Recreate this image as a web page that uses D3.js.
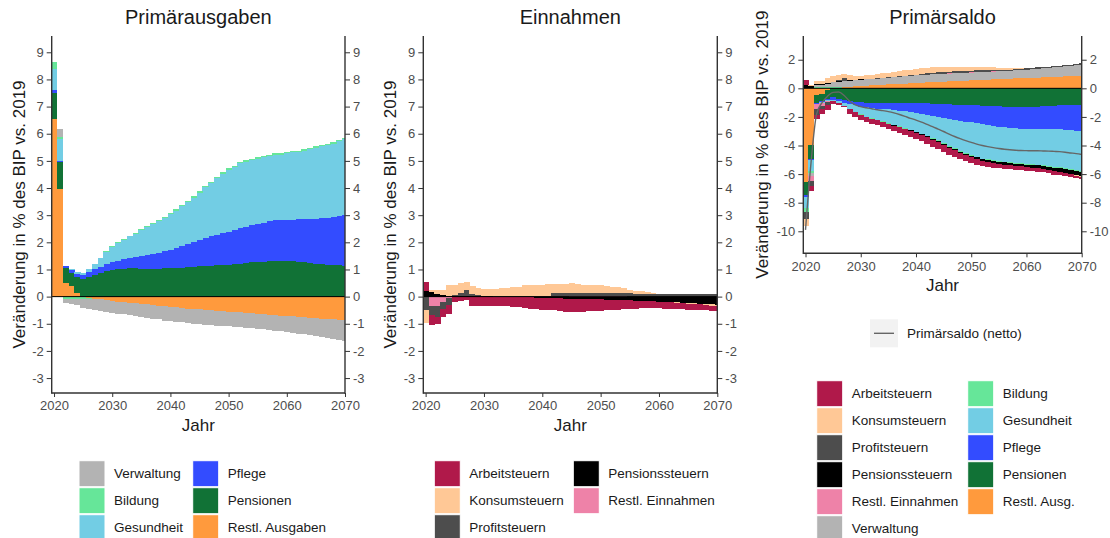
<!DOCTYPE html>
<html>
<head>
<meta charset="utf-8">
<script src="https://cdn.jsdelivr.net/npm/d3@7"></script>
<style>
  body { margin: 0; background: #fff; }
  text { font-family: "Liberation Sans", Arial, Helvetica, sans-serif; }
</style>
</head>
<body>
<svg id="chart" width="1110" height="538"></svg>
<script>
// ---------------------------------------------------------------------------
// DATA - change vs. 2019 in % of GDP, one value per year 2020..2070
// ---------------------------------------------------------------------------
const years = d3.range(2020, 2071);

// Primärausgaben
const restlAusgaben = [6.53, 3.97, 0.49, 0.38, 0.14, -0.02, -0.05, -0.07, -0.10, -0.13,
  -0.16, -0.18, -0.20, -0.22, -0.25, -0.27, -0.29, -0.31, -0.33, -0.36,
  -0.38, -0.40, -0.42, -0.44, -0.45, -0.47, -0.49, -0.50, -0.52, -0.53,
  -0.55, -0.57, -0.58, -0.60, -0.62, -0.63, -0.65, -0.67, -0.69, -0.70,
  -0.72, -0.73, -0.75, -0.76, -0.78, -0.80, -0.81, -0.83, -0.84, -0.86, -0.87];
const pensionen = [0.96, 0.98, 0.55, 0.50, 0.58, 0.64, 0.72, 0.80, 0.88, 0.95,
  0.99, 1.01, 1.03, 1.04, 1.04, 1.03, 1.03, 1.03, 1.03, 1.04,
  1.04, 1.05, 1.06, 1.08, 1.10, 1.12, 1.13, 1.14, 1.15, 1.17,
  1.18, 1.20, 1.22, 1.24, 1.26, 1.27, 1.29, 1.31, 1.32, 1.32,
  1.31, 1.30, 1.28, 1.26, 1.23, 1.21, 1.19, 1.17, 1.16, 1.15, 1.14];
const pflege = [0.12, 0.06, 0.07, 0.10, 0.13, 0.15, 0.17, 0.20, 0.22, 0.25,
  0.29, 0.32, 0.35, 0.38, 0.41, 0.45, 0.49, 0.53, 0.58, 0.63,
  0.69, 0.74, 0.80, 0.86, 0.92, 0.98, 1.03, 1.08, 1.12, 1.16,
  1.20, 1.25, 1.29, 1.33, 1.37, 1.41, 1.44, 1.47, 1.49, 1.51,
  1.52, 1.54, 1.57, 1.60, 1.63, 1.65, 1.69, 1.73, 1.78, 1.83, 1.87];
const gesundheit = [0.76, 0.80, 0.01, 0.04, 0.05, 0.08, 0.13, 0.22, 0.33, 0.45,
  0.55, 0.65, 0.72, 0.80, 0.87, 0.98, 1.04, 1.10, 1.17, 1.22,
  1.30, 1.38, 1.46, 1.55, 1.62, 1.73, 1.87, 1.96, 2.10, 2.20,
  2.29, 2.32, 2.40, 2.40, 2.40, 2.40, 2.40, 2.40, 2.42, 2.40,
  2.45, 2.47, 2.48, 2.51, 2.56, 2.62, 2.65, 2.68, 2.70, 2.74, 2.78];
const bildung = [0.27, 0.08, -0.08, -0.09, -0.09, -0.06, -0.03, -0.01, 0.01, 0.02,
  0.03, 0.03, 0.03, 0.03, 0.03, 0.04, 0.04, 0.04, 0.04, 0.04,
  0.04, 0.04, 0.04, 0.05, 0.05, 0.05, 0.05, 0.05, 0.05, 0.05,
  0.05, 0.05, 0.05, 0.05, 0.05, 0.05, 0.05, 0.05, 0.05, 0.05,
  0.05, 0.05, 0.05, 0.05, 0.06, 0.06, 0.06, 0.06, 0.06, 0.06, 0.06];
const verwaltung = [0.00, 0.27, -0.15, -0.17, -0.22, -0.33, -0.37, -0.40, -0.42, -0.43,
  -0.44, -0.45, -0.45, -0.46, -0.47, -0.48, -0.49, -0.50, -0.51, -0.52,
  -0.53, -0.53, -0.53, -0.54, -0.54, -0.54, -0.54, -0.55, -0.55, -0.55,
  -0.55, -0.55, -0.55, -0.55, -0.55, -0.55, -0.56, -0.56, -0.57, -0.58,
  -0.59, -0.60, -0.61, -0.63, -0.64, -0.66, -0.68, -0.70, -0.72, -0.75, -0.77];

// Einnahmen
const arbeitsteuern = [0.33, -0.37, -0.25, -0.30, -0.35, -0.20, -0.15, -0.12, -0.33, -0.33,
  -0.34, -0.34, -0.34, -0.35, -0.35, -0.35, -0.38, -0.40, -0.41, -0.42,
  -0.43, -0.44, -0.45, -0.47, -0.48, -0.48, -0.47, -0.46, -0.44, -0.43,
  -0.42, -0.40, -0.38, -0.36, -0.33, -0.30, -0.29, -0.28, -0.27, -0.26,
  -0.25, -0.25, -0.24, -0.24, -0.23, -0.23, -0.22, -0.21, -0.20, -0.19, -0.18];
const konsumsteuern = [-0.50, 0.05, 0.15, 0.20, 0.40, 0.38, 0.35, 0.32, 0.30, 0.25,
  0.25, 0.26, 0.27, 0.28, 0.30, 0.32, 0.34, 0.37, 0.38, 0.38,
  0.40, 0.42, 0.36, 0.36, 0.36, 0.36, 0.33, 0.30, 0.29, 0.28,
  0.27, 0.25, 0.22, 0.20, 0.18, 0.14, 0.14, 0.12, 0.10, 0.05,
  0.00, 0.00, -0.01, -0.01, -0.02, -0.02, -0.03, -0.03, -0.04, -0.04, -0.04];
const profitsteuern = [-0.48, -0.32, -0.43, -0.25, -0.25, 0.02, 0.12, 0.20, 0.05, 0.02,
  0.02, 0.02, 0.02, 0.02, 0.02, 0.02, 0.03, 0.04, 0.04, 0.04,
  0.04, 0.04, 0.12, 0.12, 0.12, 0.12, 0.12, 0.12, 0.12, 0.12,
  0.12, 0.12, 0.12, 0.12, 0.12, 0.12, 0.08, 0.08, 0.08, 0.08,
  0.08, 0.10, 0.10, 0.10, 0.10, 0.10, 0.10, 0.10, 0.10, 0.10, 0.10];
const pensionssteuern = [0.22, 0.18, 0.10, 0.05, 0.04, 0.04, 0.03, 0.03, 0.03, 0.03,
  0.02, 0.01, 0.00, 0.00, -0.01, -0.02, -0.02, -0.03, -0.03, -0.04,
  -0.05, -0.05, -0.06, -0.06, -0.07, -0.08, -0.08, -0.09, -0.09, -0.10,
  -0.10, -0.11, -0.12, -0.12, -0.13, -0.14, -0.15, -0.15, -0.16, -0.17,
  -0.18, -0.19, -0.20, -0.21, -0.22, -0.24, -0.25, -0.26, -0.27, -0.29, -0.30];
const restlEinnahmen = [0.00, -0.35, -0.33, -0.20, -0.05, 0.00, 0.00, 0.00, 0.00, 0.00,
  0.00, 0.00, 0.00, 0.00, 0.00, 0.00, 0.00, 0.00, 0.00, 0.00,
  0.00, 0.00, 0.00, 0.00, 0.00, 0.02, 0.02, 0.02, 0.02, 0.02,
  0.02, 0.02, 0.02, 0.02, 0.02, 0.00, 0.00, 0.00, 0.00, 0.00,
  0.00, 0.00, 0.00, 0.00, 0.00, 0.00, 0.00, 0.00, 0.00, 0.00, 0.00];

// Primärsaldo (netto), smoothed line
const saldoNetto = [-9.9, -5.2, -1.8, -1.0, -0.55, -0.28, -0.26, -0.5, -0.9, -1.15,
  -1.28, -1.36, -1.43, -1.5, -1.56, -1.63, -1.72, -1.83, -1.96, -2.1,
  -2.22, -2.36, -2.52, -2.68, -2.85, -3.02, -3.2, -3.37, -3.52, -3.66,
  -3.78, -3.9, -4.0, -4.08, -4.15, -4.21, -4.26, -4.3, -4.33, -4.35,
  -4.36, -4.37, -4.37, -4.38, -4.39, -4.41, -4.43, -4.47, -4.52, -4.57, -4.63];

const ticksAB = [-3, -2, -1, 0, 1, 2, 3, 4, 5, 6, 7, 8, 9];
const ticksSaldo = [-10, -8, -6, -4, -2, 0, 2];
const ticksYear = [2020, 2030, 2040, 2050, 2060, 2070];

const colors = {
  'Verwaltung': '#b3b3b3', 'Bildung': '#66e699', 'Gesundheit': '#72cde4',
  'Pflege': '#334cff', 'Pensionen': '#117236', 'Restl. Ausgaben': '#ff9a3d',
  'Restl. Ausg.': '#ff9a3d',
  'Arbeitsteuern': '#b0194a', 'Konsumsteuern': '#ffc896', 'Profitsteuern': '#4d4d4d',
  'Pensionssteuern': '#000000', 'Restl. Einnahmen': '#ee82a8'
};

// ---------------------------------------------------------------------------
// HELPERS
// ---------------------------------------------------------------------------
const svg = d3.select('#chart');
const FONT_TICK = '13px', TICK_COL = '#4d4d4d', AXIS_COL = '#333';

// series: [{name, values}] ordered from the zero line outward
function drawPanel(p, series, id) {
  const x = d3.scaleLinear().domain([2019.6, 2070]).range([p.left, p.right]);
  const y = d3.scaleLinear().domain(p.yDomain).range([p.bottom, p.top]);

  const rows = years.map((yr, i) => {
    const r = { year: yr };
    series.forEach(s => { r[s.name] = s.values[i]; });
    return r;
  });
  const stack = d3.stack()
    .keys(series.map(s => s.name))
    .offset(d3.stackOffsetDiverging);
  const layers = stack(rows);

  svg.append('clipPath').attr('id', 'clip' + id)
    .append('rect')
    .attr('x', p.left).attr('y', p.top)
    .attr('width', p.right - p.left).attr('height', p.bottom - p.top);

  const g = svg.append('g').attr('clip-path', `url(#clip${id})`);
  layers.forEach(layer => {
    g.append('g')
      .attr('fill', colors[layer.key])
      .selectAll('rect')
      .data(layer.filter(d => d[0] !== d[1]))
      .enter().append('rect')
      .attr('shape-rendering', 'crispEdges')
      .attr('x', d => x(d.data.year - 0.5))
      .attr('width', d => x(d.data.year + 0.5) - x(d.data.year - 0.5) + 0.3)
      .attr('y', d => y(Math.max(d[0], d[1])))
      .attr('height', d => Math.abs(y(d[0]) - y(d[1])));
  });

  // zero line
  g.append('line')
    .attr('x1', p.left).attr('x2', p.right)
    .attr('y1', y(0)).attr('y2', y(0))
    .attr('stroke', '#000').attr('stroke-width', 1);

  if (p.line) {
    const line = d3.line()
      .x((d, i) => x(years[i]))
      .y(d => y(d))
      .curve(d3.curveMonotoneX);
    g.append('path')
      .attr('d', line(p.line))
      .attr('fill', 'none')
      .attr('stroke', '#666')
      .attr('stroke-width', 1.4);
  }

  // axes (left, right, bottom)
  const axL = svg.append('g').attr('transform', `translate(${p.left},0)`)
    .call(d3.axisLeft(y).tickValues(p.yTicks).tickSize(5).tickPadding(3).tickFormat(d3.format('d')));
  const axR = svg.append('g').attr('transform', `translate(${p.right},0)`)
    .call(d3.axisRight(y).tickValues(p.yTicks).tickSize(5).tickPadding(3).tickFormat(d3.format('d')));
  const axB = svg.append('g').attr('transform', `translate(0,${p.bottom})`)
    .call(d3.axisBottom(x).tickValues(ticksYear).tickSize(4).tickPadding(4).tickFormat(d3.format('d')));
  [axL, axR, axB].forEach(a => {
    a.select('.domain').attr('d', null);
    a.selectAll('.tick line').attr('stroke', AXIS_COL).attr('stroke-width', 1);
    a.selectAll('.tick text').attr('fill', TICK_COL).style('font-size', FONT_TICK)
      .style('font-family', '"Liberation Sans", Arial, sans-serif')
      .text(d => String(d).replace('\u2212', '-'));
  });
  // axis lines drawn explicitly
  const ax = svg.append('g').attr('stroke', AXIS_COL).attr('stroke-width', 1.4);
  ax.append('line').attr('x1', p.left).attr('x2', p.left).attr('y1', p.top).attr('y2', p.bottom + 0.7);
  ax.append('line').attr('x1', p.right).attr('x2', p.right).attr('y1', p.top).attr('y2', p.bottom + 0.7);
  ax.append('line').attr('x1', p.left).attr('x2', p.right).attr('y1', p.bottom).attr('y2', p.bottom);

  const cx = (p.left + p.right) / 2;
  svg.append('text').attr('x', cx).attr('y', 24).attr('text-anchor', 'middle')
    .style('font-size', '20px').attr('fill', '#1a1a1a').text(p.title);
  svg.append('text').attr('x', cx).attr('y', p.bottom + 38).attr('text-anchor', 'middle')
    .style('font-size', '17px').attr('fill', '#1a1a1a').text('Jahr');
  svg.append('text')
    .attr('transform', `translate(${p.ytitleX},${(p.top + p.bottom) / 2}) rotate(-90)`)
    .attr('text-anchor', 'middle')
    .style('font-size', '17px').attr('fill', '#1a1a1a')
    .text('Veränderung in % des BIP vs. 2019');
}

function drawLegend(lx, ly, cols) {
  const g = svg.append('g').attr('transform', `translate(${lx},${ly})`);
  cols.forEach(col => {
    col.items.forEach((name, i) => {
      g.append('rect')
        .attr('x', col.dx).attr('y', i * 27)
        .attr('width', 26).attr('height', 26)
        .attr('fill', colors[name])
        .attr('stroke', '#fff').attr('stroke-width', 1);
      g.append('text')
        .attr('x', col.dx + 35).attr('y', i * 27 + 13)
        .attr('dy', '0.35em')
        .style('font-size', '13.5px').attr('fill', '#1a1a1a')
        .text(name);
    });
  });
}

// ---------------------------------------------------------------------------
// PANELS
// ---------------------------------------------------------------------------
drawPanel({
  left: 51.7, right: 345, top: 36, bottom: 393, yDomain: [-3.55, 9.6],
  yTicks: ticksAB, title: 'Primärausgaben', ytitleX: 25
}, [
  { name: 'Restl. Ausgaben', values: restlAusgaben },
  { name: 'Pensionen', values: pensionen },
  { name: 'Pflege', values: pflege },
  { name: 'Gesundheit', values: gesundheit },
  { name: 'Bildung', values: bildung },
  { name: 'Verwaltung', values: verwaltung }
], 1);

drawPanel({
  left: 423.3, right: 717.3, top: 36, bottom: 393, yDomain: [-3.55, 9.6],
  yTicks: ticksAB, title: 'Einnahmen', ytitleX: 396
}, [
  { name: 'Restl. Einnahmen', values: restlEinnahmen },
  { name: 'Pensionssteuern', values: pensionssteuern },
  { name: 'Profitsteuern', values: profitsteuern },
  { name: 'Konsumsteuern', values: konsumsteuern },
  { name: 'Arbeitsteuern', values: arbeitsteuern }
], 2);

// Primärsaldo = Einnahmen minus Ausgaben
const neg = arr => arr.map(v => -v);
drawPanel({
  left: 803.3, right: 1081.7, top: 36, bottom: 253.3, yDomain: [-11.54, 3.66],
  yTicks: ticksSaldo, title: 'Primärsaldo', ytitleX: 768, line: saldoNetto
}, [
  { name: 'Restl. Ausg.', values: neg(restlAusgaben) },
  { name: 'Pensionen', values: neg(pensionen) },
  { name: 'Pflege', values: neg(pflege) },
  { name: 'Gesundheit', values: neg(gesundheit) },
  { name: 'Bildung', values: neg(bildung) },
  { name: 'Verwaltung', values: neg(verwaltung) },
  { name: 'Restl. Einnahmen', values: restlEinnahmen },
  { name: 'Pensionssteuern', values: pensionssteuern },
  { name: 'Profitsteuern', values: profitsteuern },
  { name: 'Konsumsteuern', values: konsumsteuern },
  { name: 'Arbeitsteuern', values: arbeitsteuern }
], 3);

// ---------------------------------------------------------------------------
// LEGENDS
// ---------------------------------------------------------------------------
drawLegend(79, 460.7, [
  { dx: 0, items: ['Verwaltung', 'Bildung', 'Gesundheit'] },
  { dx: 113.7, items: ['Pflege', 'Pensionen', 'Restl. Ausgaben'] }
]);
drawLegend(434.3, 460.7, [
  { dx: 0, items: ['Arbeitsteuern', 'Konsumsteuern', 'Profitsteuern'] },
  { dx: 139, items: ['Pensionssteuern', 'Restl. Einnahmen'] }
]);
drawLegend(816.7, 380.7, [
  { dx: 0, items: ['Arbeitsteuern', 'Konsumsteuern', 'Profitsteuern', 'Pensionssteuern', 'Restl. Einnahmen', 'Verwaltung'] },
  { dx: 151, items: ['Bildung', 'Gesundheit', 'Pflege', 'Pensionen', 'Restl. Ausg.'] }
]);

// line legend for Primärsaldo (netto)
const ll = svg.append('g').attr('transform', 'translate(870,319.3)');
ll.append('rect').attr('width', 28).attr('height', 28).attr('fill', '#f2f2f2');
ll.append('line').attr('x1', 4).attr('x2', 24).attr('y1', 14).attr('y2', 14)
  .attr('stroke', '#666').attr('stroke-width', 1.4);
ll.append('text').attr('x', 37).attr('y', 14).attr('dy', '0.35em')
  .style('font-size', '13.5px').attr('fill', '#1a1a1a').text('Primärsaldo (netto)');
</script>
</body>
</html>
